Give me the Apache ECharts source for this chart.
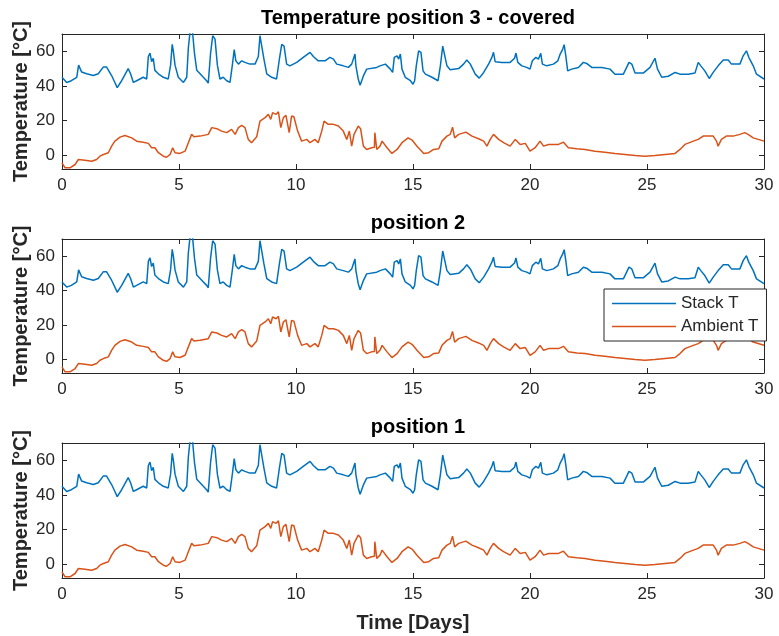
<!DOCTYPE html>
<html>
<head>
<meta charset="utf-8">
<script src="https://cdn.jsdelivr.net/npm/echarts@6/dist/echarts.min.js"></script>
<style>html,body{margin:0;padding:0;background:#fff}#c{width:779px;height:636px}</style>
</head>
<body>
<div id="c"></div>
<script>
const titles = ['Temperature position 3 - covered', 'position 2', 'position 1'];
const seriesNames = ['Stack T', 'Ambient T'];
const yTicks = [0, 20, 40, 60];

const stackDays = [0,0.2,0.4,0.63,0.71,0.84,1.05,1.34,1.55,1.77,1.9,2.12,2.26,2.36,2.55,2.83,2.93,3.05,3.19,3.47,3.62,3.69,3.76,3.83,3.9,3.97,4.12,4.33,4.54,4.64,4.71,4.76,4.83,4.97,5.19,5.33,5.4,5.47,5.58,5.66,5.76,5.97,6.18,6.25,6.35,6.44,6.54,6.64,6.75,6.89,7.04,7.18,7.28,7.36,7.43,7.54,7.68,7.82,8.03,8.25,8.39,8.46,8.53,8.63,8.75,8.96,9.17,9.29,9.39,9.49,9.6,9.74,10.03,10.31,10.6,10.74,10.95,11.24,11.45,11.6,11.74,12.02,12.24,12.38,12.52,12.56,12.66,12.74,12.88,13.02,13.45,13.59,13.82,14.03,14.13,14.2,14.32,14.39,14.46,14.53,14.67,14.89,15.0,15.07,15.14,15.24,15.34,15.43,15.53,15.81,16.07,16.17,16.27,16.34,16.45,16.59,16.95,17.16,17.3,17.45,17.66,17.83,18.02,18.23,18.37,18.44,18.51,18.8,19.15,19.34,19.4,19.48,19.65,19.86,20.0,20.1,20.25,20.36,20.46,20.53,20.72,21.0,21.19,21.29,21.4,21.46,21.53,21.61,21.78,22.07,22.28,22.42,22.64,23.07,23.42,23.63,23.99,24.13,24.23,24.35,24.49,24.84,25.13,25.34,25.45,25.63,25.91,26.2,26.41,26.76,27.05,27.19,27.3,27.47,27.66,27.83,28.04,28.26,28.47,28.61,28.97,29.11,29.25,29.35,29.54,29.68,30.0];
const stackTemp = [45,42,43,45,52,48,47,46,47,51,51,46,42,39,43,50,47,42,43,45,44,57,59,54,56,49,47,45,44,52,64,60,52,45,42,45,62,71,71,59,49,46,43,41.6,59,69,67,52,44,45,43,42,52,61,54.5,52.6,54.5,53.6,52.6,52.6,57,69,68,55.5,47,45,44,55.5,64,63,52.6,51.6,53.6,56.5,59.4,57,54.5,54.5,56.5,55.5,52.6,51.6,50.7,52.6,58.4,51.6,44,40.4,45.8,49.7,50.7,51.6,52.6,49.7,47.8,56.5,57.4,55.5,58.4,49.7,45,43,41,43,51.6,60.3,59.4,48.7,46.8,45,43,51.6,63,64,51.6,49.3,50,52.6,55,52.6,46.8,44.5,47.8,52.6,56.5,59.4,54,53.6,53.6,56,59,53.6,51.6,50.7,49.7,54.5,56.5,55.5,58.8,52.6,51.6,52.6,54.5,58.4,61.3,63.8,57.4,48.7,49.7,50.7,53.6,53,50.7,50.7,49.7,46.8,46.8,50.7,53.6,52.6,47.4,47.4,50.7,56,49.7,45,45.6,47.8,46.8,46.8,47.4,53.6,51.6,48.7,44.3,47.8,51.6,55,55,52.6,52.6,57.4,60.3,56.5,51.6,46.8,44];

const ambDays = [0,0.13,0.34,0.56,0.7,0.98,1.27,1.48,1.62,1.77,1.98,2.12,2.26,2.48,2.69,2.98,3.19,3.47,3.69,3.83,3.97,4.12,4.33,4.47,4.62,4.73,4.83,5.04,5.26,5.4,5.54,5.64,5.9,6.25,6.4,6.62,6.82,7.04,7.25,7.4,7.54,7.68,7.82,7.96,8.1,8.32,8.46,8.68,8.82,8.92,9.0,9.15,9.25,9.35,9.46,9.57,9.71,9.81,9.91,10.07,10.24,10.46,10.6,10.81,10.95,11.1,11.2,11.38,11.6,11.81,12.02,12.17,12.28,12.38,12.48,12.66,12.76,12.88,13.02,13.23,13.35,13.37,13.45,13.59,13.68,13.89,14.1,14.32,14.53,14.79,14.96,15.17,15.46,15.67,15.88,16.1,16.24,16.45,16.59,16.69,16.78,16.95,17.26,17.52,17.8,18.02,18.16,18.3,18.44,18.66,18.87,19.15,19.37,19.58,19.8,20.0,20.22,20.43,20.58,20.79,21.22,21.43,21.64,22.0,22.35,22.78,23.2,23.63,24.06,24.49,24.91,25.34,25.77,26.2,26.41,26.62,26.98,27.19,27.4,27.83,27.97,28.04,28.18,28.39,28.68,28.97,29.18,29.32,29.54,30.0];
const ambTemp = [-4.4,-7.3,-7.3,-5.4,-2.5,-2.9,-3.5,-2.5,-0.6,0.4,1.4,5.2,8.1,10.4,11.4,10,8.1,7.5,6.8,4.3,4.3,1.4,-0.6,-1.2,0.4,4.3,1.4,1,2.3,7.2,12,10.6,11,12,15.9,15.3,13.9,13,14.9,12,15.9,17.2,15.9,9.1,7.2,10.6,19.7,21.7,23.6,20.7,24.6,23.6,25,15.9,21.7,23,13,22.6,22.2,13.9,8.1,9.1,7.2,9.1,7.2,13.9,19.7,17.8,17.8,16.8,13.9,9.1,13.9,5.2,12,16.8,15.3,5.2,3.3,4.3,4.5,13,3.3,5.2,8.1,4.3,1,3.3,7.2,10,8.7,5.2,1,1.4,3.3,3.7,8.1,11,12,16.2,10,12,13.3,11,9.5,8.1,5.2,9.1,12,9.1,7.2,5.2,9.1,6.2,6.8,2.3,4.3,8.1,5.2,6.2,6.2,7.5,4.3,3.7,3.3,2.3,1.7,1,0.4,-0.2,-0.6,-0.2,0.4,1,3.3,6.2,8.1,9.1,11,11,8.1,5.2,9.1,11,11,12,13,12,10,8.1];

const zip = (xs, ys) => xs.map((x, i) => [x, ys[i]]);
const stackData = zip(stackDays, stackTemp);
const ambData = zip(ambDays, ambTemp);

const axisColor = '#262626';
const FONT = 'Liberation Sans, Arial, Helvetica, sans-serif';
const grids = [
  {left: 62, top: 34, width: 702, height: 135, outerBoundsMode: 'none', containLabel: false},
  {left: 62, top: 239, width: 702, height: 134, outerBoundsMode: 'none', containLabel: false},
  {left: 62, top: 443, width: 702, height: 135, outerBoundsMode: 'none', containLabel: false}
];

const xAxis = [], yAxis = [], series = [], title = [];
grids.forEach((g, i) => {
  xAxis.push({
    type: 'value', gridIndex: i, min: 0, max: 30, interval: 5, position: 'bottom',
    axisLine: {onZero: false, lineStyle: {color: axisColor, width: 1}},
    axisTick: {inside: true, length: 5, lineStyle: {color: axisColor}},
    axisLabel: {color: axisColor, fontSize: 17, fontFamily: FONT, margin: 8},
    splitLine: {show: false},
    name: i === 2 ? 'Time [Days]' : '', nameLocation: 'middle', nameGap: 35, nameMoveOverlap: false,
    nameTextStyle: {color: axisColor, fontSize: 20, fontWeight: 'bold', fontFamily: FONT}
  });
  yAxis.push({
    type: 'value', gridIndex: i, min: -8, max: 70, position: 'left',
    axisLine: {show: true, onZero: false, lineStyle: {color: axisColor, width: 1}},
    axisTick: {show: true, inside: true, length: 5, customValues: yTicks, lineStyle: {color: axisColor}},
    axisLabel: {color: axisColor, fontSize: 17, fontFamily: FONT, margin: 7, customValues: yTicks},
    splitLine: {show: false},
    name: 'Temperature [°C]', nameLocation: 'middle', nameGap: 31, nameRotate: 90, nameMoveOverlap: false,
    nameTextStyle: {color: axisColor, fontSize: 20, fontWeight: 'bold', fontFamily: FONT}
  });
  series.push({
    name: seriesNames[0], type: 'line', xAxisIndex: i, yAxisIndex: i, data: stackData,
    showSymbol: false, symbol: 'none', lineStyle: {color: '#0072BD', width: 1.5}, itemStyle: {color: '#0072BD'},
    animation: false, clip: true
  });
  series.push({
    name: seriesNames[1], type: 'line', xAxisIndex: i, yAxisIndex: i, data: ambData,
    showSymbol: false, symbol: 'none', lineStyle: {color: '#D95319', width: 1.5}, itemStyle: {color: '#D95319'},
    animation: false, clip: true
  });
  title.push({
    text: titles[i], left: g.left + g.width / 2, textAlign: 'center', top: g.top - 31,
    textStyle: {color: '#000', fontSize: 20, fontWeight: 'bold', fontFamily: FONT}
  });
});
grids.forEach((g, i) => {
  xAxis.push({
    type: 'value', gridIndex: i, min: 0, max: 30, interval: 5, position: 'top',
    axisLine: {onZero: false, lineStyle: {color: axisColor, width: 1}},
    axisTick: {inside: true, length: 5, lineStyle: {color: axisColor}},
    axisLabel: {show: false}, splitLine: {show: false}
  });
  yAxis.push({
    type: 'value', gridIndex: i, min: -8, max: 70, position: 'right',
    axisLine: {show: true, onZero: false, lineStyle: {color: axisColor, width: 1}},
    axisTick: {show: true, inside: true, length: 5, customValues: yTicks, lineStyle: {color: axisColor}},
    axisLabel: {show: false, customValues: yTicks}, splitLine: {show: false}
  });
});

const chart = echarts.init(document.getElementById('c'));
chart.setOption({
  animation: false,
  backgroundColor: '#fff',
  title: title,
  grid: grids,
  xAxis: xAxis,
  yAxis: yAxis,
  series: series,
  legend: {
    data: seriesNames, orient: 'vertical', left: 604, top: 289,
    backgroundColor: '#fff', borderColor: axisColor, borderWidth: 1,
    padding: [6, 8, 6, 8], itemGap: 6, itemWidth: 64, itemHeight: 14,
    textStyle: {color: axisColor, fontSize: 17, fontFamily: FONT},
    icon: 'path://M0,6.8 L64,6.8 L64,8.2 L0,8.2 Z'
  }
});
</script>
</body>
</html>
